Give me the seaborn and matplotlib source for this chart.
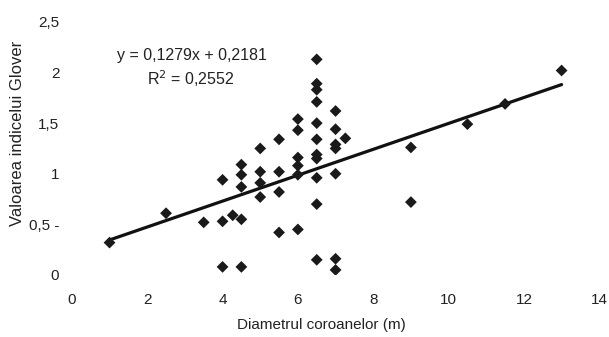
import numpy as np
import pandas as pd
import seaborn as sns
import matplotlib.pyplot as plt

# Data
diametru = [1, 2.5, 3.5, 4, 4, 4, 4.27, 4.5, 4.5, 4.5, 4.5, 4.5,
            5, 5, 5, 5, 5.5, 5.5, 5.5, 5.5,
            6, 6, 6, 6, 6, 6,
            6.5, 6.5, 6.5, 6.5, 6.5, 6.5, 6.5, 6.5, 6.5, 6.5, 6.5,
            7, 7, 7, 7, 7, 7, 7, 7.26,
            9, 9, 10.5, 11.5, 13]
glover = [0.32, 0.61, 0.52, 0.53, 0.94, 0.08, 0.59, 0.55, 1.09, 0.99, 0.87, 0.08,
          1.25, 1.02, 0.91, 0.77, 1.34, 1.02, 0.82, 0.42,
          1.54, 1.43, 1.16, 1.08, 0.99, 0.45,
          2.13, 1.89, 1.83, 1.71, 1.50, 1.34, 1.19, 1.15, 0.96, 0.70, 0.15,
          1.62, 1.44, 1.29, 1.25, 1.0, 0.16, 0.05, 1.35,
          1.26, 0.72, 1.49, 1.69, 2.02]

# trend line from the printed equation
panta = 0.1279
interceptie = 0.2181
r2 = 0.2552

x_ticks = [0, 2, 4, 6, 8, 10, 12, 14]
y_ticks = [0, 0.5, 1, 1.5, 2, 2.5]
y_labels = ['0', '0,5 -', '1', '1,5', '2', '2,5']

df = pd.DataFrame({'x': diametru, 'y': glover})
linie = pd.DataFrame({'x': [min(diametru), max(diametru)]})
linie['y'] = panta * linie['x'] + interceptie

sns.set_style('white')
plt.rcParams['font.family'] = ['Liberation Sans', 'DejaVu Sans']

fig = plt.figure(figsize=(6.09, 3.37), dpi=100)
ax = fig.add_axes([0.118, 0.184, 0.866, 0.751])

sns.lineplot(data=linie, x='x', y='y', color='#111111', linewidth=2.3, ax=ax)
sns.scatterplot(data=df, x='x', y='y', marker='D', s=36, color='#1a1a1a',
                edgecolor='none', ax=ax, zorder=3)

ax.set_xlim(0, 14)
ax.set_ylim(0, 2.5)
ax.set_xticks(x_ticks)
ax.set_xticklabels([str(t) for t in x_ticks])
ax.set_yticks(y_ticks)
ax.set_yticklabels(y_labels)
ax.tick_params(length=0, labelsize=11, colors='#222222')
ax.tick_params(axis='x', pad=13)
ax.tick_params(axis='y', pad=9)
sns.despine(ax=ax, left=True, bottom=True)

ax.set_xlabel('Diametrul coroanelor (m)', fontsize=11, color='#222222')
ax.set_ylabel('Valoarea indicelui Glover', fontsize=12, color='#222222')
ax.xaxis.set_label_coords(0.474, -0.17)
ax.yaxis.set_label_coords(-0.088, 0.56)

ax.text(3.2, 2.17, 'y = 0,1279x + 0,2181', ha='center', va='center', fontsize=11.5, color='#222222')
ax.text(3.15, 1.94, 'R$^2$ = 0,2552', ha='center', va='center', fontsize=11.5, color='#222222')

fig.savefig('out.png', dpi=100)
